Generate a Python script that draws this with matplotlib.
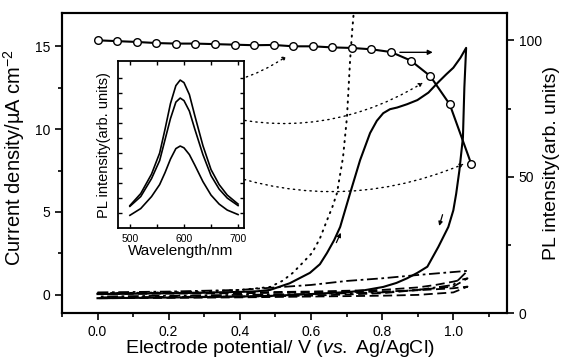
import matplotlib
matplotlib.use("Agg")
import matplotlib.pyplot as plt
from matplotlib.ticker import MultipleLocator

plt.rcParams['font.family'] = ['Liberation Sans', 'DejaVu Sans']
plt.rcParams['mathtext.fontset'] = 'custom'
plt.rcParams['mathtext.rm'] = 'Liberation Sans'
plt.rcParams['mathtext.it'] = 'Liberation Sans:italic'

# PL intensity vs potential (right axis)
pl_v = [0.0, 0.055, 0.11, 0.165, 0.22, 0.275, 0.33, 0.385, 0.44, 0.495,
        0.55, 0.605, 0.66, 0.715, 0.77, 0.825, 0.88, 0.935, 0.99, 1.05]
pl_int = [100.0, 99.7, 99.4, 99.0, 98.8, 98.8, 98.6, 98.4, 98.2, 98.3,
          97.8, 97.8, 97.4, 97.2, 96.7, 95.7, 92.6, 86.9, 76.5, 54.8]

# CV, solid (forward + reverse)
cv_v = [0.0, 0.1, 0.2, 0.3, 0.4, 0.45, 0.485, 0.54, 0.597, 0.625, 0.645, 0.665,
        0.682, 0.71, 0.738, 0.766, 0.785, 0.803, 0.822, 0.842, 0.87, 0.899,
        0.93, 0.955, 0.98, 1.0, 1.02, 1.036,
        1.031, 1.027, 1.017, 1.008, 1.0, 0.986, 0.958, 0.927, 0.899, 0.87,
        0.84, 0.803, 0.75, 0.71, 0.6, 0.5, 0.4, 0.3, 0.2, 0.1, 0.0]
cv_j = [0.05, 0.07, 0.1, 0.13, 0.18, 0.22, 0.3, 0.7, 1.33, 1.85, 2.53, 3.3,
        4.1, 6.14, 8.13, 9.76, 10.5, 10.96, 11.2, 11.3, 11.5, 11.75,
        12.2, 12.77, 13.3, 13.7, 14.3, 14.9,
        12.5, 9.5, 7.5, 6.1, 5.1, 4.1, 2.9, 1.7, 1.33, 1.0,
        0.72, 0.48, 0.28, 0.18, 0.05, -0.05, -0.1, -0.13, -0.16, -0.18, -0.2]

# CV, dotted
dot_v = [0.0, 0.1, 0.2, 0.3, 0.4, 0.45, 0.485, 0.52, 0.549, 0.575, 0.603, 0.625,
         0.645, 0.66, 0.673, 0.69, 0.701, 0.71, 0.716, 0.722]
dot_j = [0.1, 0.12, 0.15, 0.2, 0.3, 0.4, 0.48, 0.85, 1.33, 1.9, 2.53, 3.4,
         4.5, 5.3, 6.14, 8.3, 10.7, 14.2, 16.0, 17.5]

# CV, dash-dot
dd_v = [0.0, 0.2, 0.4, 0.5, 0.6, 0.7, 0.8, 0.9, 1.0, 1.04, 1.0, 0.9, 0.8, 0.6, 0.4, 0.2, 0.0]
dd_j = [0.15, 0.2, 0.3, 0.45, 0.6, 0.84, 1.0, 1.2, 1.38, 1.45, 0.6, 0.3, 0.15, 0.05, 0.0, -0.05, -0.1]

# CV, dashed (two)
da1_v = [0.0, 0.2, 0.4, 0.6, 0.8, 0.9, 0.95, 1.0, 1.04, 1.0, 0.9, 0.8, 0.6, 0.4, 0.2, 0.0]
da1_j = [0.1, 0.12, 0.15, 0.2, 0.3, 0.45, 0.6, 0.8, 1.0, 0.5, 0.3, 0.1, -0.05, -0.1, -0.12, -0.15]
da2_v = [0.0, 0.2, 0.4, 0.6, 0.8, 0.9, 1.0, 1.04, 1.0, 0.9, 0.8, 0.6, 0.4, 0.2, 0.0]
da2_j = [0.05, 0.08, 0.1, 0.15, 0.2, 0.28, 0.4, 0.5, 0.15, 0.0, -0.05, -0.1, -0.15, -0.18, -0.2]

# inset spectra
wl = [500, 520, 540, 555, 565, 575, 585, 593, 600, 610, 620, 635, 650, 665, 680, 700]
spec1 = [1.5, 2.3, 3.6, 5.0, 6.6, 8.3, 9.5, 9.87, 9.7, 8.9, 7.5, 5.5, 3.9, 2.9, 2.2, 1.6]
spec2 = [1.45, 2.1, 3.3, 4.5, 5.9, 7.3, 8.4, 8.67, 8.5, 7.8, 6.6, 4.9, 3.5, 2.6, 2.0, 1.5]
spec3 = [0.85, 1.3, 2.1, 2.9, 3.7, 4.6, 5.3, 5.47, 5.35, 4.9, 4.2, 3.1, 2.2, 1.6, 1.2, 0.9]

fig = plt.figure(figsize=(5.63, 3.62), dpi=100)
ax = fig.add_axes([0.110, 0.135, 0.790, 0.829])
ax.set_xlim(-0.1, 1.15)
ax.set_ylim(-1.1, 17)

ax.plot(cv_v, cv_j, color='black', lw=1.5)
ax.plot(dot_v, dot_j, color='black', lw=1.4, linestyle=(0, (0.6, 2.8)), dash_capstyle='round')
ax.plot(dd_v, dd_j, color='black', lw=1.3, linestyle=(0, (6, 2, 1.5, 2)))
ax.plot(da1_v, da1_j, color='black', lw=1.3, linestyle=(0, (5, 2.5)))
ax.plot(da2_v, da2_j, color='black', lw=1.3, linestyle=(0, (5, 2.5)))

# small direction arrows on the CV
ax.annotate('', xy=(0.687, 3.9), xytext=(0.668, 3.0),
            arrowprops=dict(arrowstyle='-|>', color='black', lw=0.9, mutation_scale=6))
ax.annotate('', xy=(0.958, 4.0), xytext=(0.972, 5.0),
            arrowprops=dict(arrowstyle='-|>', color='black', lw=0.9, mutation_scale=6))

# dotted connectors from inset peaks to PL points
conn = [((0.25, 12.5), (0.532, 14.4), 0.15),
        ((0.248, 11.45), (0.915, 12.8), 0.24),
        ((0.28, 7.95), (1.03, 7.9), 0.21)]
for start, end, rad in conn:
    ax.annotate('', xy=end, xytext=start,
                arrowprops=dict(arrowstyle='-|>', color='black', lw=1.0,
                                linestyle=(0, (1, 3)), mutation_scale=6,
                                connectionstyle='arc3,rad=%.2f' % rad,
                                shrinkA=0, shrinkB=0))

ax.set_xticks([0.0, 0.2, 0.4, 0.6, 0.8, 1.0])
ax.set_xticklabels(['0.0', '0.2', '0.4', '0.6', '0.8', '1.0'])
ax.xaxis.set_minor_locator(MultipleLocator(0.1))
ax.yaxis.set_major_locator(MultipleLocator(5))
ax.yaxis.set_minor_locator(MultipleLocator(2.5))
ax.tick_params(which='both', direction='out', labelsize=10, width=1.2, top=False)
ax.tick_params(which='major', length=5)
ax.tick_params(which='minor', length=3)
ax.set_xlabel(r'Electrode potential/ V ($\it{vs.}$ Ag/AgCl)', fontsize=14)
ax.xaxis.set_label_coords(0.49, -0.082)
ax.set_ylabel(r'Current density/µA cm$^{-2}$', fontsize=14.5)
ax.yaxis.set_label_coords(-0.078, 0.52)
for s in ax.spines.values():
    s.set_linewidth(1.5)

ax2 = ax.twinx()
ax2.set_ylim(0, 110)
ax2.plot(pl_v, pl_int, color='black', lw=1.5, marker='o', markersize=5.5,
         markerfacecolor='white', markeredgecolor='black', markeredgewidth=1.0)
ax2.annotate('', xy=(0.95, 95.6), xytext=(0.842, 95.6),
             arrowprops=dict(arrowstyle='-|>', color='black', lw=1.0, mutation_scale=7))
ax2.yaxis.set_major_locator(MultipleLocator(50))
ax2.yaxis.set_minor_locator(MultipleLocator(25))
ax2.tick_params(which='both', direction='out', labelsize=10, width=1.2)
ax2.tick_params(which='major', length=5)
ax2.tick_params(which='minor', length=3)
ax2.set_ylabel('PL intensity(arb. units)', fontsize=14)
ax2.yaxis.set_label_coords(1.081, 0.5)
for s in ax2.spines.values():
    s.set_linewidth(1.5)

# inset
axi = fig.add_axes([0.2096, 0.370, 0.2238, 0.461])
axi.plot(wl, spec1, color='black', lw=1.2)
axi.plot(wl, spec2, color='black', lw=1.2)
axi.plot(wl, spec3, color='black', lw=1.2)
axi.set_xlim(478, 711)
axi.set_ylim(0, 11.13)
axi.set_xticks([500, 600, 700])
axi.xaxis.set_minor_locator(MultipleLocator(50))
axi.set_yticks(range(1, 11))
axi.set_yticklabels([])
axi.tick_params(which='both', direction='in', top=True, right=True, labelsize=7.5,
                length=3, width=1.0, pad=4)
axi.set_xlabel('Wavelength/nm', fontsize=11, labelpad=0)
axi.set_ylabel('PL intensity(arb. units)', fontsize=10.5, labelpad=1)
for s in axi.spines.values():
    s.set_linewidth(1.3)

fig.savefig('out.png', dpi=100)
